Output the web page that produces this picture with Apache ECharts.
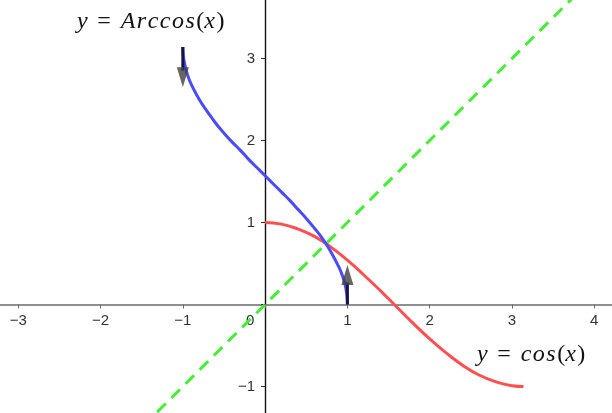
<!DOCTYPE html>
<html>
<head>
<meta charset="utf-8">
<script src="https://cdn.jsdelivr.net/npm/echarts@6/dist/echarts.min.js"></script>
<style>
html,body{margin:0;padding:0;background:#fff;}
#chart{width:612px;height:413px;}
</style>
</head>
<body>
<div id="chart"></div>
<script>
// Data
const xTicks = [-4,-3,-2,-1,0,1,2,3,4,5];
const yTicks = [-2,-1,0,1,2,3,4];

const cosX = [0,0.2,0.4,0.6,0.8,1.0,1.2,1.4,1.6,1.8,2.0,2.2,2.4,2.6,2.8,3.0,3.14];
const cosY = [1.00,0.98,0.92,0.83,0.70,0.54,0.36,0.17,-0.03,-0.23,-0.42,-0.59,-0.74,-0.86,-0.94,-0.99,-1.00];

const acosX = [-1,-0.998,-0.99,-0.97,-0.94,-0.9,-0.8,-0.7,-0.6,-0.5,-0.4,-0.3,-0.2,-0.1,0,0.1,0.2,0.3,0.4,0.5,0.6,0.7,0.8,0.9,0.94,0.97,0.99,0.998,1];
const acosY = [3.14,3.08,3.00,2.90,2.79,2.69,2.50,2.35,2.21,2.09,1.98,1.88,1.77,1.67,1.57,1.47,1.37,1.27,1.16,1.05,0.93,0.80,0.64,0.45,0.35,0.25,0.14,0.06,0];

const idX = [-2,4];
const idY = [-2,4];

const vecTopX = [-1,-1];
const vecTopY = [3.14,2.85];
const vecBotX = [1,1];
const vecBotY = [0,0.27];

const arrowX = [-1,1];
const arrowY = [2.77,0.36];
const arrowRot = [180,0];

const zip = (a,b) => a.map((v,i)=>[v,b[i]]);
const fmtNum = v => v < 0 ? '\u2212' + (-v) : '' + v;

const serifI = {fontFamily:'Liberation Serif', fontStyle:'italic', fontSize:24, fill:'#111', padding:[0,1.5,0,0]};
const serifN = {fontFamily:'Liberation Serif', fontSize:24, fill:'#111'};
const serifE = {fontFamily:'Liberation Serif', fontSize:24, fill:'#111', padding:[0,10,0,8]};
const letters = s => s.split('').map(c => '{i|' + c + '}').join('');

const chart = echarts.init(document.getElementById('chart'), null, {renderer:'canvas'});
chart.setOption({
  animation:false,
  backgroundColor:'#ffffff',
  grid:{left:-64, right:-64.5, top:-23.5, bottom:-55.5, containLabel:false, outerBoundsMode:'none'},
  xAxis:{
    type:'value', min:xTicks[0], max:xTicks[xTicks.length-1], interval:1,
    position:'bottom', offset:-164,
    axisLine:{onZero:false, lineStyle:{color:'#6a6a6a', width:1.6}},
    axisTick:{show:true, length:4, lineStyle:{color:'#6a6a6a', width:1}},
    splitLine:{show:false},
    axisLabel:{
      margin:9, color:'#333', fontSize:15, fontFamily:'Liberation Sans',
      formatter: v => v === 0 ? '{z|0}' : fmtNum(v),
      rich:{z:{padding:[0,30,0,0], color:'#333', fontSize:15, fontFamily:'Liberation Sans'}}
    }
  },
  yAxis:{
    type:'value', min:yTicks[0], max:yTicks[yTicks.length-1], interval:1,
    position:'left', offset:-329,
    axisLine:{onZero:false, lineStyle:{color:'#111', width:1.4}},
    axisTick:{show:true, length:4, lineStyle:{color:'#333', width:1}},
    splitLine:{show:false},
    axisLabel:{
      margin:10, color:'#333', fontSize:15, fontFamily:'Liberation Sans',
      formatter: v => v === 0 ? '' : fmtNum(v)
    }
  },
  series:[
    {type:'line', data:zip(idX,idY), symbol:'none', z:2,
     lineStyle:{color:'#44ee33', width:3, type:[12,8]}},
    {type:'line', data:zip(cosX,cosY), symbol:'none', smooth:true, z:3,
     lineStyle:{color:'#ff4f4f', width:3}},
    {type:'line', data:zip(acosX,acosY), symbol:'none', smooth:true, z:4,
     lineStyle:{color:'#4a4aff', width:3}},
    {type:'line', data:zip(vecTopX,vecTopY), symbol:'none', z:5,
     lineStyle:{color:'#14144a', width:3}},
    {type:'line', data:zip(vecBotX,vecBotY), symbol:'none', z:5,
     lineStyle:{color:'#14144a', width:3}},
    {type:'scatter', z:6, symbol:'triangle', symbolSize:[12,20],
     data: arrowX.map((x,i)=>({value:[x,arrowY[i]], symbolRotate:arrowRot[i]})),
     itemStyle:{color:'#404040'}}
  ],
  graphic:[
    {type:'text', left:77, top:10, z:10, style:{
      text:'{i|y}{e|=}' + letters('Arccos') + '{n|(}{i|x}{n|)}',
      rich:{i:serifI, n:serifN, e:serifE}}},
    {type:'text', left:477, top:343, z:10, style:{
      text:'{i|y}{e|=}' + letters('cos') + '{n|(}{i|x}{n|)}',
      rich:{i:serifI, n:serifN, e:serifE}}}
  ]
});
</script>
</body>
</html>
